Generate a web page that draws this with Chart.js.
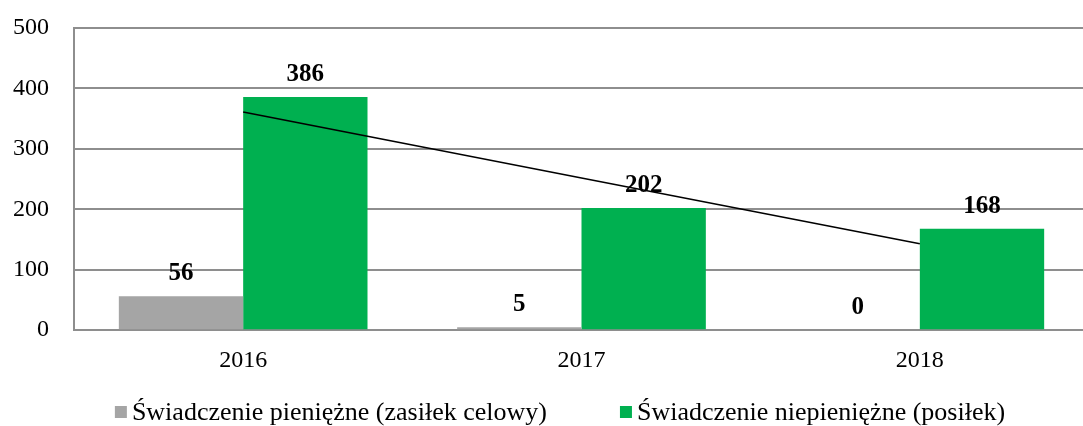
<!DOCTYPE html>
<html>
<head>
<meta charset="utf-8">
<script src="https://cdn.jsdelivr.net/npm/chart.js@4"></script>
<style>
  html, body { margin: 0; padding: 0; background: #fff; overflow: hidden; }
  #wrap { width: 1089px; height: 426px; }
</style>
</head>
<body>
<div id="wrap"><canvas id="chart"></canvas></div>
<script>
const lata = ['2016', '2017', '2018'];
const zasilekCelowy = [56, 5, 0];
const posilek = [386, 202, 168];
// linia trendu dla posiłków
const trendPosilek = [361, 252, 143];
const osY = [0, 100, 200, 300, 400, 500];

const fontSerif = "'Liberation Serif', 'Times New Roman', serif";

// wartości nad słupkami
const etykietyWartosci = {
    id: 'etykietyWartosci',
    afterDatasetsDraw(chart) {
        const ctx = chart.ctx;
        ctx.save();
        ctx.font = 'bold 25px ' + fontSerif;
        ctx.fillStyle = '#000';
        ctx.textAlign = 'center';
        ctx.textBaseline = 'alphabetic';
        [0, 1].forEach(i => {
            const meta = chart.getDatasetMeta(i);
            meta.data.forEach((bar, j) => {
                ctx.fillText(chart.data.datasets[i].data[j], bar.x, bar.y - 16);
            });
        });
        ctx.restore();
    }
};

// legenda pod wykresem, kwadrat tuż przy tekście
const legendaDol = {
    id: 'legendaDol',
    afterDraw(chart) {
        const ctx = chart.ctx;
        const box = 12, odstep = 5, przerwa = 73;
        const y = 412;
        ctx.save();
        ctx.font = '26px ' + fontSerif;
        const items = chart.data.datasets.slice(0, 2);
        const szer = items.map(d => ctx.measureText(d.label).width);
        const calosc = szer.reduce((a, w) => a + box + odstep + w, 0) + przerwa;
        let x = 560 - calosc / 2;
        ctx.textBaseline = 'middle';
        ctx.textAlign = 'left';
        items.forEach((d, i) => {
            ctx.fillStyle = d.backgroundColor;
            ctx.fillRect(x, y - box / 2, box, box);
            ctx.fillStyle = '#000';
            ctx.fillText(d.label, x + box + odstep, y + 1);
            x += box + odstep + szer[i] + przerwa;
        });
        ctx.restore();
    }
};

const ctx = document.getElementById('chart').getContext('2d');
new Chart(ctx, {
    type: 'bar',
    data: {
        labels: lata,
        datasets: [
            {
                label: 'Świadczenie pieniężne (zasiłek celowy)',
                data: zasilekCelowy,
                backgroundColor: '#A5A5A5',
                categoryPercentage: 0.735,
                barPercentage: 1,
                order: 2
            },
            {
                label: 'Świadczenie niepieniężne (posiłek)',
                data: posilek,
                backgroundColor: '#00B050',
                categoryPercentage: 0.735,
                barPercentage: 1,
                order: 2
            },
            {
                type: 'line',
                label: 'trend',
                data: trendPosilek,
                borderColor: '#000',
                borderWidth: 1.5,
                pointRadius: 0,
                fill: false,
                order: 1
            }
        ]
    },
    options: {
        responsive: true,
        maintainAspectRatio: false,
        animation: false,
        layout: { padding: { top: 28, left: 12, right: 0, bottom: 43 } },
        plugins: {
            legend: { display: false },
            tooltip: { enabled: false }
        },
        scales: {
            x: {
                grid: { display: false },
                border: { display: true, color: '#8e8e8e', width: 2 },
                ticks: { font: { family: fontSerif, size: 24 }, color: '#000', padding: 8 }
            },
            y: {
                min: 0,
                max: 500,
                afterBuildTicks: axis => { axis.ticks = osY.map(v => ({ value: v })); },
                afterFit: axis => {
                    axis.width = 62;
                    axis.paddingTop = 0;
                },
                grid: { color: '#8e8e8e', lineWidth: 2, drawTicks: false },
                border: { display: true, color: '#8e8e8e', width: 2 },
                ticks: { font: { family: fontSerif, size: 24 }, color: '#000', padding: 25 }
            }
        }
    },
    plugins: [etykietyWartosci, legendaDol]
});
</script>
</body>
</html>
